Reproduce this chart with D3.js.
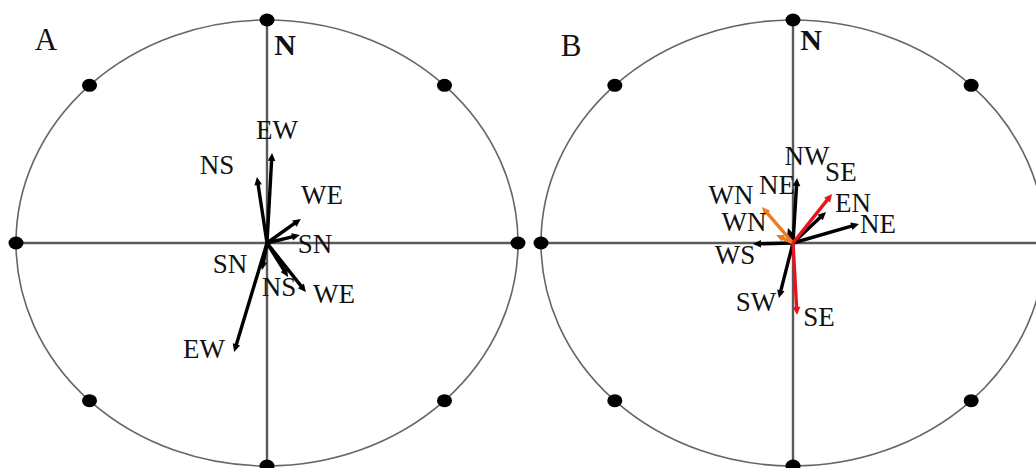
<!DOCTYPE html>
<html>
<head>
<meta charset="utf-8">
<script src="https://cdn.jsdelivr.net/npm/d3@7"></script>
<style>
  html, body { margin: 0; padding: 0; background: #fff; }
  svg { display: block; }
  text { font-family: "Liberation Serif", "Times New Roman", serif; fill: #111; }
</style>
</head>
<body>
<svg id="chart" width="1036" height="468"></svg>
<script>
// ---------- data (unit-circle coordinates: x east, y north) ----------
const compassAngles = [0, 45, 90, 135, 180, 225, 270, 315];
const panelTitles = ["A", "B"];
const northLabel = "N";

// Panel A
const labelsA = ["EW", "NS", "WE", "SN", "SN", "NS", "WE", "EW"];
const tipXA   = [0.020, -0.040, 0.135, 0.131, -0.020, 0.084, 0.155, -0.131];
const tipYA   = [0.404,  0.296, 0.108, 0.036, -0.121, -0.152, -0.220, -0.489];
const groupA  = ["base", "base", "base", "base", "base", "base", "base", "base"];
const labXA   = [0.040, -0.199, 0.219, 0.191, -0.147, 0.048, 0.267, -0.251];
const labYA   = [0.507,  0.350, 0.215, -0.004, -0.094, -0.197, -0.229, -0.475];

// Panel B
const labelsB = ["NW", "NE", "WN", "WN", "WS", "SW", "SE", "SE", "EN", "NE"];
const tipXB   = [0.016, -0.020, -0.123, -0.067, -0.159, -0.056, 0.016, 0.155, 0.131, 0.262];
const tipYB   = [0.291,  0.067,  0.161,  0.036, -0.004, -0.247, -0.323, 0.220, 0.139, 0.085];
const groupB  = ["base", "base", "orange", "orange", "base", "base", "red", "red", "base", "base"];
const labXB   = [0.056, -0.063, -0.246, -0.194, -0.230, -0.147, 0.103, 0.190, 0.238, 0.337];
const labYB   = [0.390,  0.260,  0.215,  0.094, -0.054, -0.265, -0.332, 0.318, 0.179, 0.085];

// ---------- layout ----------
const svg = d3.select("#chart");
const colour = d3.scaleOrdinal()
  .domain(["base", "orange", "red"])
  .range(["#000000", "#ee7a1e", "#e8141c"]);

const panels = [
  { title: panelTitles[0], cx: 267, cy: 243, rx: 251, ry: 223,
    labels: labelsA, tx: tipXA, ty: tipYA, grp: groupA, lx: labXA, ly: labYA,
    titlePos: [46, 39], nPos: [18, -199] },
  { title: panelTitles[1], cx: 793, cy: 243, rx: 252, ry: 223,
    labels: labelsB, tx: tipXB, ty: tipYB, grp: groupB, lx: labXB, ly: labYB,
    titlePos: [571, 45], nPos: [18, -204] }
];

panels.forEach(p => {
  const x = d3.scaleLinear().domain([-1, 1]).range([p.cx - p.rx, p.cx + p.rx]);
  const y = d3.scaleLinear().domain([-1, 1]).range([p.cy + p.ry, p.cy - p.ry]);
  const g = svg.append("g");

  // outer ellipse
  g.append("ellipse")
    .attr("cx", x(0)).attr("cy", y(0))
    .attr("rx", x(1) - x(0)).attr("ry", y(-1) - y(0))
    .attr("fill", "none").attr("stroke", "#666").attr("stroke-width", 1.6);

  // cross axes
  g.append("line").attr("x1", x(-1)).attr("x2", x(1)).attr("y1", y(0)).attr("y2", y(0))
    .attr("stroke", "#5a5a5a").attr("stroke-width", 2.4);
  g.append("line").attr("x1", x(0)).attr("x2", x(0)).attr("y1", y(1)).attr("y2", y(-1))
    .attr("stroke", "#5a5a5a").attr("stroke-width", 2.4);

  // compass dots
  g.selectAll("ellipse.dot").data(compassAngles).join("ellipse")
    .attr("class", "dot")
    .attr("cx", a => x(Math.sin(a * Math.PI / 180)))
    .attr("cy", a => y(Math.cos(a * Math.PI / 180)))
    .attr("rx", 7.5).attr("ry", 6.5)
    .attr("fill", "#000");

  // title + N
  g.append("text").attr("x", p.titlePos[0]).attr("y", p.titlePos[1])
    .attr("text-anchor", "middle").attr("dominant-baseline", "central")
    .attr("font-size", 31).text(p.title);
  g.append("text").attr("x", x(0) + p.nPos[0]).attr("y", y(0) + p.nPos[1])
    .attr("text-anchor", "middle").attr("dominant-baseline", "central")
    .attr("font-size", 30).attr("font-weight", "bold").text(northLabel);

  // arrows (black first, coloured on top)
  const arrows = p.labels.map((lab, i) => ({
    lab, x: p.tx[i], y: p.ty[i], grp: p.grp[i], lx: p.lx[i], ly: p.ly[i]
  }));
  const order = arrows.slice().sort((a, b) => (b.grp === "base") - (a.grp === "base"));
  const ag = g.append("g");
  order.forEach(d => {
    const x0 = x(0), y0 = y(0), x1 = x(d.x), y1 = y(d.y);
    const dx = x1 - x0, dy = y1 - y0, L = Math.hypot(dx, dy);
    const ux = dx / L, uy = dy / L;
    const hl = 8, hw = 3.8;
    const bx = x1 - ux * hl, by = y1 - uy * hl;
    const c = colour(d.grp);
    ag.append("line").attr("x1", x0).attr("y1", y0).attr("x2", bx + ux * 1).attr("y2", by + uy * 1)
      .attr("stroke", c).attr("stroke-width", 3.4).attr("stroke-linecap", "butt");
    ag.append("path")
      .attr("d", d3.line()([[x1, y1], [bx - uy * hw, by + ux * hw], [bx + uy * hw, by - ux * hw]]) + "Z")
      .attr("fill", c);
  });

  g.selectAll("text.lab").data(arrows).join("text")
    .attr("class", "lab")
    .attr("x", d => x(d.lx)).attr("y", d => y(d.ly))
    .attr("text-anchor", "middle").attr("dominant-baseline", "central")
    .attr("font-size", 27).text(d => d.lab);
});
</script>
</body>
</html>
